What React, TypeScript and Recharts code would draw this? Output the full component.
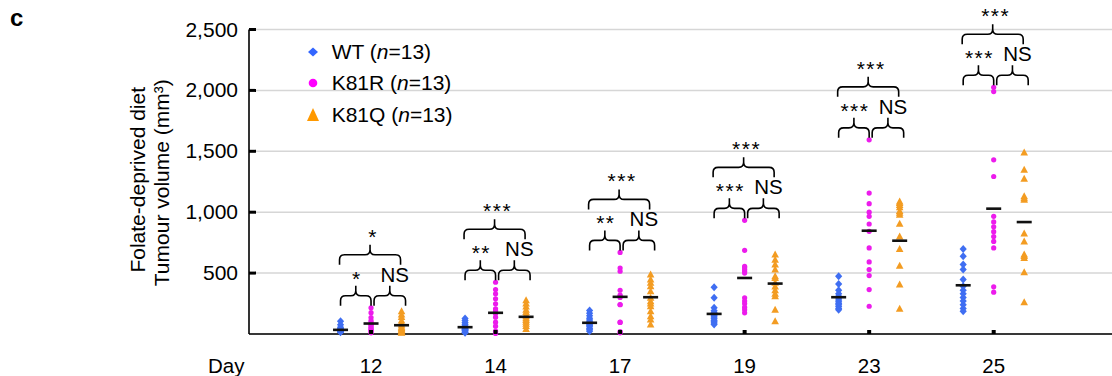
import React from "react";
import { ScatterChart, Scatter, XAxis, YAxis, CartesianGrid, Legend } from "recharts";

const FONT = '"Liberation Sans", Arial, Helvetica, sans-serif';
const BLUE = "#3f6ef2";
const MAGENTA = "#ec1cec";
const ORANGE = "#f39c22";

const days = ["12", "14", "17", "19", "23", "25"];
const yTicks = [500, 1000, 1500, 2000, 2500];

const groupNames = ["WT", "K81R", "K81Q"];
const groupN = [13, 13, 13];

// tumour volumes (mm3), one row per day
const wt = [
  [105, 75, 55, 45, 40, 35, 30, 28, 25, 22, 20, 18, 15],
  [127, 110, 95, 80, 65, 55, 45, 40, 35, 30, 25, 15, 10],
  [193, 170, 150, 130, 115, 100, 90, 80, 70, 60, 45, 35, 23],
  [384, 297, 215, 190, 175, 160, 150, 140, 125, 110, 100, 90, 78],
  [474, 410, 360, 330, 310, 295, 280, 265, 250, 240, 225, 210, 200],
  [698, 638, 570, 529, 447, 392, 360, 330, 300, 270, 240, 210, 187],
];
const k81r = [
  [215, 175, 135, 110, 95, 80, 75, 60, 50, 40, 30, 20, 10],
  [425, 365, 330, 289, 248, 207, 190, 168, 138, 97, 64, 23, 5],
  [670, 542, 515, 359, 320, 310, 300, 242, 240, 97, 95, 20, 10],
  [933, 687, 556, 545, 530, 515, 500, 297, 270, 250, 220, 200, 174],
  [1594, 1157, 1070, 1000, 966, 903, 843, 707, 592, 529, 480, 365, 228],
  [2026, 1990, 1430, 1293, 966, 920, 880, 840, 800, 760, 707, 387, 343],
];
const k81q = [
  [187, 160, 140, 110, 90, 75, 60, 50, 40, 30, 20, 15, 10],
  [277, 250, 225, 200, 180, 160, 145, 130, 115, 100, 85, 65, 42],
  [488, 447, 420, 392, 351, 297, 269, 250, 228, 187, 146, 119, 78],
  [652, 610, 570, 530, 474, 460, 420, 390, 360, 330, 310, 200, 105],
  [1088, 1075, 1060, 1040, 1010, 995, 979, 905, 801, 698, 561, 406, 207],
  [1490, 1348, 1275, 1130, 1115, 1102, 825, 760, 652, 640, 624, 507, 261],
];

const wtMean = [34, 56, 92, 165, 302, 400];
const k81rMean = [86, 174, 305, 460, 848, 1029];
const k81qMean = [72, 141, 302, 414, 766, 919];

const sigWtR = ["*", "**", "**", "***", "***", "***"];
const sigRQ = ["NS", "NS", "NS", "NS", "NS", "NS"];
const sigWtQ = ["*", "***", "***", "***", "***", "***"];

const SHIFT = 0.245;

const toPoints = (rows: number[][], shift: number) =>
  rows.flatMap((vals, i) => vals.map((v) => ({ x: i + shift, y: v })));
const toMeans = (vals: number[], shift: number) => vals.map((v, i) => ({ x: i + shift, y: v }));

const wtPts = toPoints(wt, -SHIFT);
const k81rPts = toPoints(k81r, 0);
const k81qPts = toPoints(k81q, SHIFT);
const meanPts = [...toMeans(wtMean, -SHIFT), ...toMeans(k81rMean, 0), ...toMeans(k81qMean, SHIFT)];

const Diamond = (p: any) => (
  <polygon
    points={`${p.cx},${p.cy - 4} ${p.cx + 3.6},${p.cy} ${p.cx},${p.cy + 4} ${p.cx - 3.6},${p.cy}`}
    fill={BLUE}
  />
);
const Dot = (p: any) => <circle cx={p.cx} cy={p.cy} r={2.6} fill={MAGENTA} />;
const Tri = (p: any) => (
  <polygon
    points={`${p.cx},${p.cy - 4} ${p.cx + 3.8},${p.cy + 3} ${p.cx - 3.8},${p.cy + 3}`}
    fill={ORANGE}
  />
);
const MeanBar = (p: any) => <rect x={p.cx - 7.5} y={p.cy - 1.3} width={15} height={2.6} fill="#111" />;
const Nothing = () => <g />;

function bracePath(x1: number, x2: number, yb: number) {
  const h = 20;
  const r = 5;
  const xm = (x1 + x2) / 2;
  const ym = yb - h / 2;
  const yt = yb - h;
  return (
    `M${x1},${yb} L${x1},${ym + r} Q${x1},${ym} ${x1 + r},${ym} L${xm - r},${ym} Q${xm},${ym} ${xm},${ym - r} L${xm},${yt} ` +
    `M${x2},${yb} L${x2},${ym + r} Q${x2},${ym} ${x2 - r},${ym} L${xm + r},${ym} Q${xm},${ym} ${xm},${ym - r}`
  );
}

function Braces({ points, i }: { points: { x: number; y: number }[]; i: number }) {
  if (!points || points.length < 3) return null;
  const [a, b, c] = points;
  const yb = a.y - 2;
  const yl = yb - 41;
  const lx1 = a.x, lx2 = b.x;
  const rx1 = b.x + 3, rx2 = c.x + 4;
  const gx1 = a.x - 1, gx2 = c.x - 1;
  const star = (s: string, x: number, y: number) => (
    <text x={x + 1} y={y} textAnchor="middle" fontSize={21} letterSpacing={1.5} fontFamily={FONT} fill="#000">
      {s}
    </text>
  );
  const ns = (s: string, x: number, y: number) =>
    s === "NS" ? (
      <text x={x} y={y} textAnchor="middle" fontSize={20.5} fontFamily={FONT} fill="#000">
        {s}
      </text>
    ) : (
      star(s, x, y + 4)
    );
  return (
    <g>
      <path d={bracePath(lx1, lx2, yb)} fill="none" stroke="#000" strokeWidth={1.6} />
      <path d={bracePath(rx1, rx2, yb)} fill="none" stroke="#000" strokeWidth={1.6} />
      <path d={bracePath(gx1, gx2, yl)} fill="none" stroke="#000" strokeWidth={1.6} />
      {star(sigWtR[i], (lx1 + lx2) / 2, yb - 20)}
      {ns(sigRQ[i], (rx1 + rx2) / 2 + 5, yb - 24)}
      {star(sigWtQ[i], (gx1 + gx2) / 2 + 2, yl - 21)}
    </g>
  );
}

const XTick = (p: any) => (
  <g>
    <rect x={p.x - 2} y={p.y - 4} width={4} height={4} fill="#000" />
    <text x={p.x} y={p.y + 39} textAnchor="middle" fontSize={20.5} fontFamily={FONT} fill="#000">
      {days[p.payload.value]}
    </text>
  </g>
);

const YTick = (p: any) => (
  <g>
    <line x1={p.x} x2={p.x + 7} y1={p.y} y2={p.y} stroke="#000" strokeWidth={3} />
    <text x={p.x - 11} y={p.y} dy={7} textAnchor="end" fontSize={21} fontFamily={FONT} fill="#000">
      {Number(p.payload.value).toLocaleString("en-US")}
    </text>
  </g>
);

const YLabel = (p: any) => {
  const vb = p.viewBox || { y: 29.5, height: 304.5 };
  const cy = vb.y + vb.height / 2;
  return (
    <g fontSize={21} fontFamily={FONT} fill="#000">
      <text x={145} y={cy - 2} transform={`rotate(-90 145 ${cy - 2})`} textAnchor="middle">
        Folate-deprived diet
      </text>
      <text x={168.5} y={cy + 1} transform={`rotate(-90 168.5 ${cy + 1})`} textAnchor="middle">
        Tumour volume (mm³)
      </text>
    </g>
  );
};

const DayLabel = (p: any) => {
  const vb = p.viewBox || { x: 249, y: 334 };
  return (
    <text x={vb.x - 41} y={vb.y + 39} fontSize={20.5} fontFamily={FONT} fill="#000">
      Day
    </text>
  );
};

const legendMarks = [
  <polygon key="d" points="10,5.5 15,10 10,14.5 5,10" fill="#3366ff" />,
  <circle key="c" cx={10} cy={10} r={4.3} fill="#ff00ff" />,
  <polygon key="t" points="10,3 16,16 4,16" fill="#ff9900" />,
];

const LegendContent = () => (
  <div style={{ fontFamily: FONT, fontSize: 21, color: "#000" }}>
    {groupNames.map((name, k) => (
      <div key={name} style={{ display: "flex", alignItems: "center", height: 31.7 }}>
        <svg width={20} height={20} style={{ marginRight: 8.7 }}>
          {legendMarks[k]}
        </svg>
        <span>
          {name} (<i>n</i>={groupN[k]})
        </span>
      </div>
    ))}
  </div>
);

export default function App() {
  return (
    <div style={{ position: "absolute", left: 0, top: 0, width: 1112, height: 376, fontFamily: FONT, background: "#fff" }}>
      <ScatterChart width={1112} height={376} margin={{ top: 29.5, right: 0, bottom: 0, left: 0 }}>
        <CartesianGrid vertical={false} stroke="#d6d6d6" strokeWidth={1.5} />
        <XAxis
          type="number"
          dataKey="x"
          domain={[-0.98, 5.95]}
          ticks={[0, 1, 2, 3, 4, 5]}
          interval={0}
          allowDataOverflow
          height={42}
          tickSize={0}
          tickMargin={0}
          tick={XTick}
          axisLine={{ stroke: "#000", strokeWidth: 1.6 }}
          label={DayLabel}
        />
        <YAxis
          type="number"
          dataKey="y"
          domain={[0, 2500]}
          ticks={yTicks}
          interval={0}
          width={249}
          tickSize={0}
          tickMargin={0}
          tick={YTick}
          axisLine={{ stroke: "#000", strokeWidth: 1.6 }}
          label={YLabel}
        />
        <Legend
          content={LegendContent}
          layout="vertical"
          verticalAlign="middle"
          align="center"
          wrapperStyle={{ top: 35.8, left: 303, width: 220, height: 96 }}
        />
        <Scatter name="WT" data={wtPts} shape={Diamond} isAnimationActive={false} />
        <Scatter name="K81R" data={k81rPts} shape={Dot} isAnimationActive={false} />
        <Scatter name="K81Q" data={k81qPts} shape={Tri} isAnimationActive={false} />
        <Scatter name="mean" data={meanPts} shape={MeanBar} legendType="none" isAnimationActive={false} />
        {days.map((d, i) => {
          const top = Math.max(...wt[i], ...k81r[i], ...k81q[i]);
          const anchors = [
            { x: i - SHIFT, y: top },
            { x: i, y: top },
            { x: i + SHIFT, y: top },
          ];
          return (
            <Scatter
              key={"brace" + d}
              name={"brace" + d}
              data={anchors}
              shape={Nothing}
              legendType="none"
              lineType="joint"
              line={(lp: any) => <Braces points={lp.points} i={i} />}
              isAnimationActive={false}
            />
          );
        })}
      </ScatterChart>
      <div style={{ position: "absolute", left: 10, top: 3.5, fontFamily: FONT, fontWeight: "bold", fontSize: 24 }}>c</div>
    </div>
  );
}
